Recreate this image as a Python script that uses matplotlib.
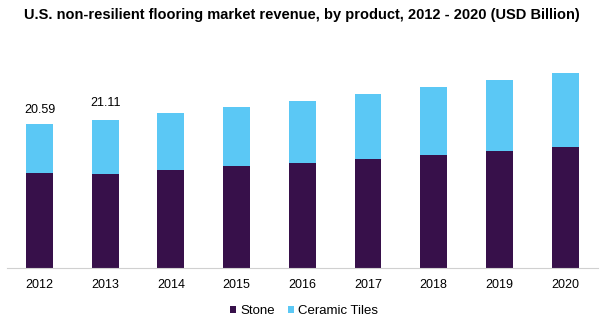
import numpy as np
import matplotlib
matplotlib.use('Agg')
import matplotlib.pyplot as plt

plt.rcParams['font.family'] = ['Liberation Sans', 'DejaVu Sans']

# values (USD Billion)
years = ['2012', '2013', '2014', '2015', '2016', '2017', '2018', '2019', '2020']
stone = [13.6, 13.4, 14.0, 14.6, 15.0, 15.6, 16.1, 16.7, 17.3]
ceramic = [7.0, 7.7, 8.1, 8.4, 8.9, 9.3, 9.8, 10.2, 10.6]
totals = [20.59, 21.11]

stone_col = '#37104A'
ceramic_col = '#5BC8F5'

fig = plt.figure(figsize=(6.08, 3.25), dpi=100)
ax = fig.add_axes([6.6 / 608, (325 - 268) / 325, (598 - 6.6) / 608, 228 / 325])

x = np.arange(len(years))
ax.bar(x, stone, width=0.41, color=stone_col, label='Stone')
ax.bar(x, ceramic, width=0.41, bottom=stone, color=ceramic_col, label='Ceramic Tiles')

# only the first two totals are labelled in the original
offsets = [10, 12.3]
for i, t in enumerate(totals):
    ax.annotate('%.2f' % t, (x[i], stone[i] + ceramic[i]), xytext=(0, offsets[i]),
                textcoords='offset points', ha='center', va='center', fontsize=9)

ax.set_xlim(-0.5, len(years) - 0.5)
ax.set_ylim(0, 228 / 7.0)
ax.set_xticks(x)
ax.set_xticklabels(years, fontsize=9)
ax.tick_params(axis='x', length=0, pad=8)
ax.set_yticks([])
for s in ['top', 'right', 'left']:
    ax.spines[s].set_visible(False)
ax.spines['bottom'].set_color('#D0D0D0')

fig.text(0.497, 0.954, 'U.S. non-resilient flooring market revenue, by product, 2012 - 2020 (USD Billion)',
         ha='center', va='center', fontsize=10.5, fontweight='bold')

fig.legend(loc='center', bbox_to_anchor=(0.5, 0.043), ncol=2, frameon=False, fontsize=9.5,
           handlelength=0.45, handleheight=0.45, handletextpad=0.3, columnspacing=1.0)

fig.savefig('out.png', dpi=100)
